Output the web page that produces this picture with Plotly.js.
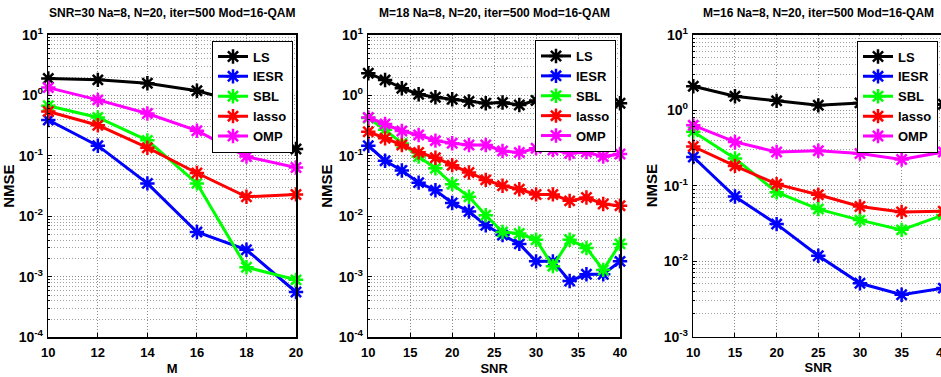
<!DOCTYPE html>
<html><head><meta charset="utf-8">
<script src="https://cdn.plot.ly/plotly-3.0.1.min.js"></script>
<style>html,body{margin:0;padding:0;overflow:hidden;background:#fff}#chart{width:944px;height:377px}</style>
</head><body><div id="chart"></div>
<script>
// ---- data ----
const seriesNames = ['LS', 'IESR', 'SBL', 'lasso', 'OMP'];

const xM = [10, 12, 14, 16, 18, 20];
const p1LS    = [1.9, 1.8, 1.58, 1.19, 0.72, 0.13];
const p1IESR  = [0.39, 0.147, 0.035, 0.0055, 0.0028, 0.00056];
const p1SBL   = [0.67, 0.43, 0.18, 0.035, 0.00144, 0.00089];
const p1lasso = [0.54, 0.32, 0.136, 0.052, 0.021, 0.023];
const p1OMP   = [1.34, 0.84, 0.50, 0.26, 0.097, 0.064];

const xSNR2 = [10, 12, 14, 16, 18, 20, 22, 24, 26, 28, 30, 32, 34, 36, 38, 40];
const p2LS    = [2.31, 1.79, 1.31, 1.04, 0.93, 0.86, 0.79, 0.74, 0.76, 0.69, 0.82, 0.72, 0.68, 0.72, 0.66, 0.74];
const p2IESR  = [0.147, 0.083, 0.057, 0.036, 0.027, 0.0166, 0.012, 0.0071, 0.0049, 0.0035, 0.0018, 0.0018, 0.00085, 0.0011, 0.0011, 0.0018];
const p2SBL   = [0.42, 0.27, 0.16, 0.097, 0.062, 0.034, 0.021, 0.0104, 0.0055, 0.0052, 0.0041, 0.0015, 0.0041, 0.003, 0.0013, 0.0035];
const p2lasso = [0.25, 0.195, 0.151, 0.114, 0.093, 0.07, 0.053, 0.04, 0.032, 0.028, 0.023, 0.023, 0.018, 0.0204, 0.016, 0.015];
const p2OMP   = [0.43, 0.336, 0.257, 0.221, 0.178, 0.161, 0.151, 0.151, 0.12, 0.113, 0.133, 0.125, 0.11, 0.115, 0.097, 0.107];

const xSNR3 = [10, 15, 20, 25, 30, 35, 40];
const p3LS    = [2.08, 1.53, 1.33, 1.16, 1.25, 1.15, 1.2];
const p3IESR  = [0.24, 0.072, 0.031, 0.0118, 0.0051, 0.0036, 0.0044];
const p3SBL   = [0.52, 0.23, 0.082, 0.049, 0.035, 0.026, 0.041];
const p3lasso = [0.33, 0.183, 0.105, 0.076, 0.053, 0.045, 0.046];
const p3OMP   = [0.63, 0.38, 0.28, 0.29, 0.267, 0.222, 0.28];

const panelTitles = [
  'SNR=30 Na=8, N=20, iter=500 Mod=16-QAM',
  'M=18 Na=8, N=20, iter=500 Mod=16-QAM',
  'M=16 Na=8, N=20, iter=500 Mod=16-QAM'
];
const xTitles = ['M', 'SNR', 'SNR'];
const yTitle = 'NMSE';
const yTickVals12 = [1e-4, 1e-3, 1e-2, 1e-1, 1, 10];
const yTickText12 = ['10<sup>-4</sup>', '10<sup>-3</sup>', '10<sup>-2</sup>', '10<sup>-1</sup>', '10<sup>0</sup>', '10<sup>1</sup>'];
const yTickVals3 = [1e-3, 1e-2, 1e-1, 1, 10];
const yTickText3 = ['10<sup>-3</sup>', '10<sup>-2</sup>', '10<sup>-1</sup>', '10<sup>0</sup>', '10<sup>1</sup>'];

// ---- styles ----
const colors = ['#000000', '#0000ff', '#00ff00', '#ff0000', '#ff00ff'];
const FONT = 'Liberation Sans, Arial, sans-serif';
const GRIDC = '#8a8a8a';
const GRIDDASH = '1px,2px';

function minorVals(lo, hi) {
  const v = [];
  for (let e = lo; e < hi; e++) for (let k = 2; k <= 9; k++) v.push(k * Math.pow(10, e));
  return v;
}

const panels = [
  {x: xM, ys: [p1LS, p1IESR, p1SBL, p1lasso, p1OMP]},
  {x: xSNR2, ys: [p2LS, p2IESR, p2SBL, p2lasso, p2OMP]},
  {x: xSNR3, ys: [p3LS, p3IESR, p3SBL, p3lasso, p3OMP]}
];

const traces = [];
panels.forEach((p, pi) => {
  const sfx = pi === 0 ? '' : String(pi + 1);
  p.ys.forEach((y, si) => {
    traces.push({
      type: 'scatter', mode: 'lines+markers',
      x: p.x, y: y, name: seriesNames[si],
      xaxis: 'x' + sfx, yaxis: 'y' + sfx,
      legend: 'legend' + sfx,
      cliponaxis: false,
      line: {color: colors[si], width: 3},
      marker: {symbol: 'asterisk-open', size: 12, color: colors[si], line: {color: colors[si], width: 2.5}}
    });
  });
});

const W = 944, H = 377;
const xTickFont = {family: FONT, size: 13, color: '#000', weight: 'bold'};
const yTickFont = {family: FONT, size: 14, color: '#000', weight: 'bold'};
function xAxis(dom, range, dtick, title, anchor) {
  return {
    domain: dom, range: range, dtick: dtick, tick0: 10, anchor: anchor,
    showline: true, linecolor: '#000', linewidth: 1.5, mirror: true,
    ticks: 'inside', ticklen: 4, tickcolor: '#000',
    showgrid: true, gridcolor: GRIDC, griddash: GRIDDASH, gridwidth: 1,
    zeroline: false, tickfont: xTickFont, ticklabelstandoff: 3, ticklabeloverflow: 'allow',
    title: {text: title, font: {family: FONT, size: 13, color: '#000', weight: 'bold'}, standoff: 4}
  };
}
function yAxis(dom, range, tv, tt, anchor, lo, hi) {
  return {
    domain: dom, type: 'log', range: range, anchor: anchor,
    tickmode: 'array', tickvals: tv, ticktext: tt,
    showline: true, linecolor: '#000', linewidth: 1.5, mirror: true,
    ticks: 'inside', ticklen: 4, tickcolor: '#000',
    showgrid: true, gridcolor: GRIDC, griddash: GRIDDASH, gridwidth: 1,
    minor: {tickmode: 'array', tickvals: minorVals(lo, hi), showgrid: true, gridcolor: '#a0a0a0', griddash: GRIDDASH, gridwidth: 1, ticks: 'inside', ticklen: 2, tickcolor: '#000'},
    zeroline: false, tickfont: yTickFont, ticklabelstandoff: 1,
    title: {text: yTitle, font: {family: FONT, size: 15, color: '#000', weight: 'bold'}, standoff: 2}
  };
}

const y12 = [1 - 337.3 / H, 1 - 34.8 / H];
const y3 = [1 - 336.7 / H, 1 - 34.7 / H];
function legend(xr, ytop) {
  return {
    x: xr / W, y: 1 - ytop / H, xanchor: 'right', yanchor: 'top',
    bgcolor: '#ffffff', bordercolor: '#000', borderwidth: 1,
    font: {family: FONT, size: 13, color: '#000', weight: 'bold'},
    itemwidth: 30, tracegroupgap: 0
  };
}

const layout = {
  width: W, height: H,
  margin: {l: 0, r: 0, t: 0, b: 0},
  paper_bgcolor: '#fff', plot_bgcolor: '#fff',
  showlegend: true,
  xaxis: xAxis([48.3 / W, 296 / W], [10, 20], 2, xTitles[0], 'y'),
  yaxis: yAxis(y12, [-4, 1], yTickVals12, yTickText12, 'x', -4, 1),
  xaxis2: xAxis([368.3 / W, 620 / W], [10, 40], 5, xTitles[1], 'y2'),
  yaxis2: yAxis(y12, [-4, 1], yTickVals12, yTickText12, 'x2', -4, 1),
  xaxis3: xAxis([693.3 / W, 943.3 / W], [10, 40], 5, xTitles[2], 'y3'),
  yaxis3: yAxis(y3, [-3, 1], yTickVals3, yTickText3, 'x3', -3, 1),
  legend: legend(293, 40.5),
  legend2: legend(616, 40),
  legend3: legend(938, 40.5),
  annotations: [
    {text: panelTitles[0], x: 172 / W},
    {text: panelTitles[1], x: 494 / W},
    {text: panelTitles[2], x: 818 / W}
  ].map(a => Object.assign(a, {
    xref: 'paper', yref: 'paper', y: 1 - 13 / H, xanchor: 'center', yanchor: 'middle',
    showarrow: false, font: {family: FONT, size: 12, color: '#000', weight: 'bold'}
  }))
};

Plotly.newPlot('chart', traces, layout, {displayModeBar: false, staticPlot: true});
</script>
</body></html>
